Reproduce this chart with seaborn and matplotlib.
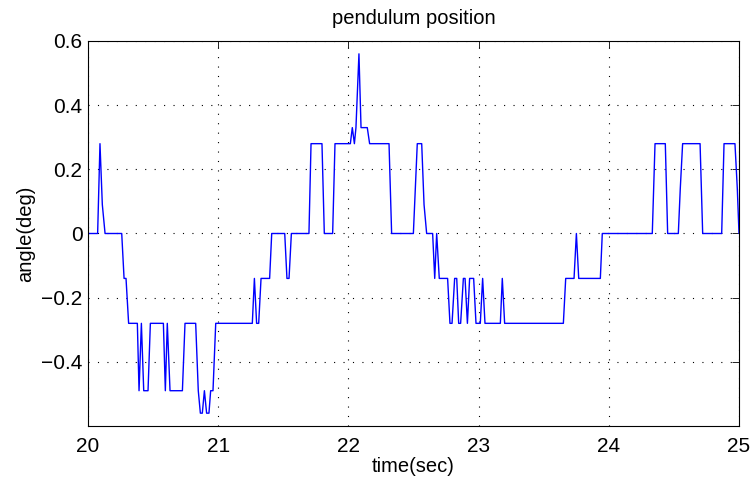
import matplotlib
matplotlib.use("Agg")
import matplotlib.pyplot as plt
import seaborn as sns
import pandas as pd

# data (time in s, angle in deg)
time_sec = [
    20.000, 20.074, 20.092, 20.110, 20.131, 20.259, 20.277, 20.292, 20.312, 20.379,
    20.392, 20.410, 20.428, 20.461, 20.479, 20.579, 20.594, 20.609, 20.630, 20.725,
    20.745, 20.827, 20.847, 20.863, 20.878, 20.894, 20.911, 20.929, 20.942, 20.960,
    20.981, 21.262, 21.278, 21.295, 21.311, 21.329, 21.395, 21.411, 21.511, 21.528,
    21.544, 21.562, 21.697, 21.713, 21.797, 21.815, 21.879, 21.897, 22.015, 22.030,
    22.046, 22.058, 22.081, 22.097, 22.145, 22.163, 22.312, 22.332, 22.499, 22.529,
    22.563, 22.581, 22.601, 22.647, 22.663, 22.678, 22.698, 22.762, 22.780, 22.796,
    22.816, 22.832, 22.847, 22.862, 22.883, 22.896, 22.914, 22.931, 22.962, 22.980,
    23.013, 23.031, 23.049, 23.167, 23.182, 23.200, 23.651, 23.669, 23.733, 23.751,
    23.769, 23.935, 23.950, 24.334, 24.355, 24.434, 24.452, 24.534, 24.549, 24.567,
    24.701, 24.721, 24.867, 24.885, 24.969, 24.987, 25.000,
]
angle_deg = [
    0.00, 0.00, 0.28, 0.09, 0.00, 0.00, -0.14, -0.14, -0.28, -0.28,
    -0.49, -0.28, -0.49, -0.49, -0.28, -0.28, -0.49, -0.28, -0.49, -0.49,
    -0.28, -0.28, -0.49, -0.56, -0.56, -0.49, -0.56, -0.56, -0.49, -0.49,
    -0.28, -0.28, -0.14, -0.28, -0.28, -0.14, -0.14, 0.00, 0.00, -0.14,
    -0.14, 0.00, 0.00, 0.28, 0.28, 0.00, 0.00, 0.28, 0.28, 0.33,
    0.28, 0.33, 0.56, 0.33, 0.33, 0.28, 0.28, 0.00, 0.00, 0.28,
    0.28, 0.09, 0.00, 0.00, -0.14, 0.00, -0.14, -0.14, -0.28, -0.28,
    -0.14, -0.14, -0.28, -0.28, -0.14, -0.14, -0.28, -0.14, -0.14, -0.28,
    -0.28, -0.14, -0.28, -0.28, -0.14, -0.28, -0.28, -0.14, -0.14, 0.00,
    -0.14, -0.14, 0.00, 0.00, 0.28, 0.28, 0.00, 0.00, 0.14, 0.28,
    0.28, 0.00, 0.00, 0.28, 0.28, 0.14, 0.00,
]
x_ticks = [20, 21, 22, 23, 24, 25]
y_ticks = [-0.4, -0.2, 0, 0.2, 0.4, 0.6]
y_tick_labels = ["\u22120.4", "\u22120.2", "0", "0.2", "0.4", "0.6"]

df = pd.DataFrame({"time": time_sec, "angle": angle_deg})

sns.set_style("white")
plt.rcParams["font.family"] = ["Liberation Sans", "DejaVu Sans"]
plt.rcParams["lines.scale_dashes"] = False
plt.rcParams["text.color"] = "black"
plt.rcParams["axes.labelcolor"] = "black"

fig = plt.figure(figsize=(7.55, 4.82), dpi=100)
ax = fig.add_axes([88 / 755, 1 - 426 / 482, 651 / 755, 385 / 482])

sns.lineplot(data=df, x="time", y="angle", color="#0000ff", linewidth=1.0,
             estimator=None, sort=False, ax=ax)

ax.set_xlim(20, 25)
ax.set_ylim(-0.6, 0.6)
ax.set_xticks(x_ticks)
ax.set_xticklabels([str(t) for t in x_ticks])
ax.set_yticks(y_ticks)
ax.set_yticklabels(y_tick_labels)

ax.grid(True, color="black", linestyle=(0, (0.8, 6.0)), linewidth=0.8)
ax.set_axisbelow(True)

for s in ax.spines.values():
    s.set_visible(True)
    s.set_color("black")
    s.set_linewidth(0.8)

ax.tick_params(direction="in", length=5, width=0.6, top=True, right=True,
               labelsize=15, colors="black")
ax.tick_params(axis="x", pad=8)
ax.tick_params(axis="y", pad=4)

ax.set_title("pendulum position", fontsize=14.5, pad=12, color="black")
ax.set_xlabel("time(sec)", fontsize=14.5, labelpad=1, color="black")
ax.set_ylabel("angle(deg)", fontsize=14.5, labelpad=4, color="black")

fig.savefig("out.png", dpi=100)
